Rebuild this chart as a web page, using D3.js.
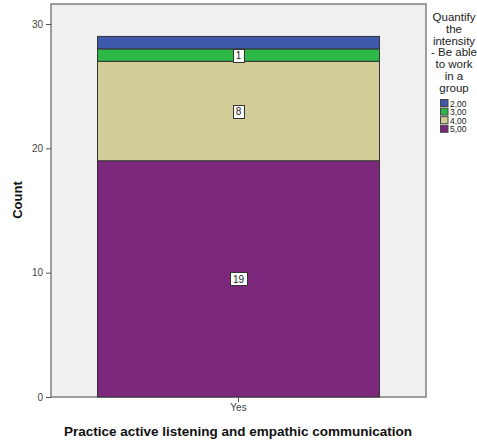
<!DOCTYPE html>
<html><head><meta charset="utf-8">
<script src="https://cdn.jsdelivr.net/npm/d3@7"></script>
<style>body{margin:0;background:#fff;} svg{display:block;font-family:"Liberation Sans",Arial,sans-serif;}</style>
</head><body>
<script>
const categories = ["Yes"];
const seriesNames = ["5,00","4,00","3,00","2,00"];
const seriesValues = [19, 8, 1, 1];
const seriesLabels = ["19","8","1",""];
const seriesColors = ["#7c287d","#d3ce97","#2eb848","#3e58ac"];
const yTicks = [0,10,20,30];
const legendTitle = ["Quantify","the","intensity","- Be able","to work","in a","group"];
const xTitle = "Practice active listening and empathic communication";
const yTitle = "Count";

const W=477,H=444;
const svg=d3.select("body").append("svg").attr("width",W).attr("height",H);
const px0=51, px1=426, py0=4, py1=397;
svg.append("rect").attr("x",px0).attr("y",py0).attr("width",px1-px0).attr("height",py1-py0)
  .attr("fill","#f0f0f0").attr("stroke","#808080").attr("stroke-width",1.5);

const y=d3.scaleLinear().domain([0,30]).range([py1,24]);
const x=d3.scaleBand().domain(categories).range([px0,px1]).paddingInner(0).paddingOuter(0.165);

let cum=0;
const stacks=seriesValues.map((v,i)=>{const s={i,y0:cum,y1:cum+v,v};cum+=v;return s;});
const g=svg.append("g");
stacks.forEach(s=>{
  g.append("rect").attr("x",x("Yes")).attr("width",x.bandwidth())
   .attr("y",y(s.y1)).attr("height",y(s.y0)-y(s.y1))
   .attr("fill",seriesColors[s.i]).attr("stroke","#333").attr("stroke-width",1);
});
stacks.forEach(s=>{
  const lab=seriesLabels[s.i]; if(!lab) return;
  const cx=x("Yes")+x.bandwidth()/2, cy=(y(s.y0)+y(s.y1))/2;
  const w=lab.length*6+5, h=13;
  g.append("rect").attr("x",Math.round(cx-w/2)+0.5).attr("y",Math.round(cy-h/2)+0.5).attr("width",w).attr("height",h)
   .attr("fill","#fff").attr("stroke","#333").attr("stroke-width",1);
  g.append("text").attr("x",cx).attr("y",cy+4).attr("text-anchor","middle").attr("font-size",10).attr("fill","#222").text(lab);
});

// y axis
const ya=svg.append("g").attr("transform",`translate(${px0},0)`)
  .call(d3.axisLeft(y).tickValues(yTicks).tickSize(5).tickPadding(3));
ya.select(".domain").remove();
ya.selectAll("line").attr("stroke","#555");
ya.selectAll("text").attr("font-size",10).attr("fill","#444").attr("font-family","Liberation Sans, Arial, sans-serif");

// x axis
const xa=svg.append("g").attr("transform",`translate(0,${py1})`)
  .call(d3.axisBottom(x).tickSize(5).tickPadding(2));
xa.select(".domain").remove();
xa.selectAll("line").attr("stroke","#555");
xa.selectAll("text").attr("font-size",10).attr("fill","#444").attr("font-family","Liberation Sans, Arial, sans-serif");

svg.append("text").attr("x",238).attr("y",436).attr("text-anchor","middle")
  .attr("font-size",13.5).attr("font-weight","bold").attr("fill","#111").text(xTitle);
svg.append("text").attr("transform","translate(22,200) rotate(-90)").attr("text-anchor","middle")
  .attr("font-size",13).attr("font-weight","bold").attr("fill","#111").text(yTitle);

// legend
const lg=svg.append("g");
legendTitle.forEach((t,i)=>{
  lg.append("text").attr("x",454).attr("y",21+i*11.8).attr("text-anchor","middle")
    .attr("font-size",11.5).attr("fill","#222").text(t);
});
const legOrder=[3,2,1,0];
legOrder.forEach((si,k)=>{
  const yy=99+k*8.6;
  lg.append("rect").attr("x",440.5).attr("y",yy+0.5).attr("width",7.5).attr("height",7)
    .attr("fill",seriesColors[si]).attr("stroke","#444").attr("stroke-width",1);
  lg.append("text").attr("x",450).attr("y",yy+7.5).attr("font-size",8.5).attr("fill","#222").text(seriesNames[si]);
});
</script>
</body></html>
